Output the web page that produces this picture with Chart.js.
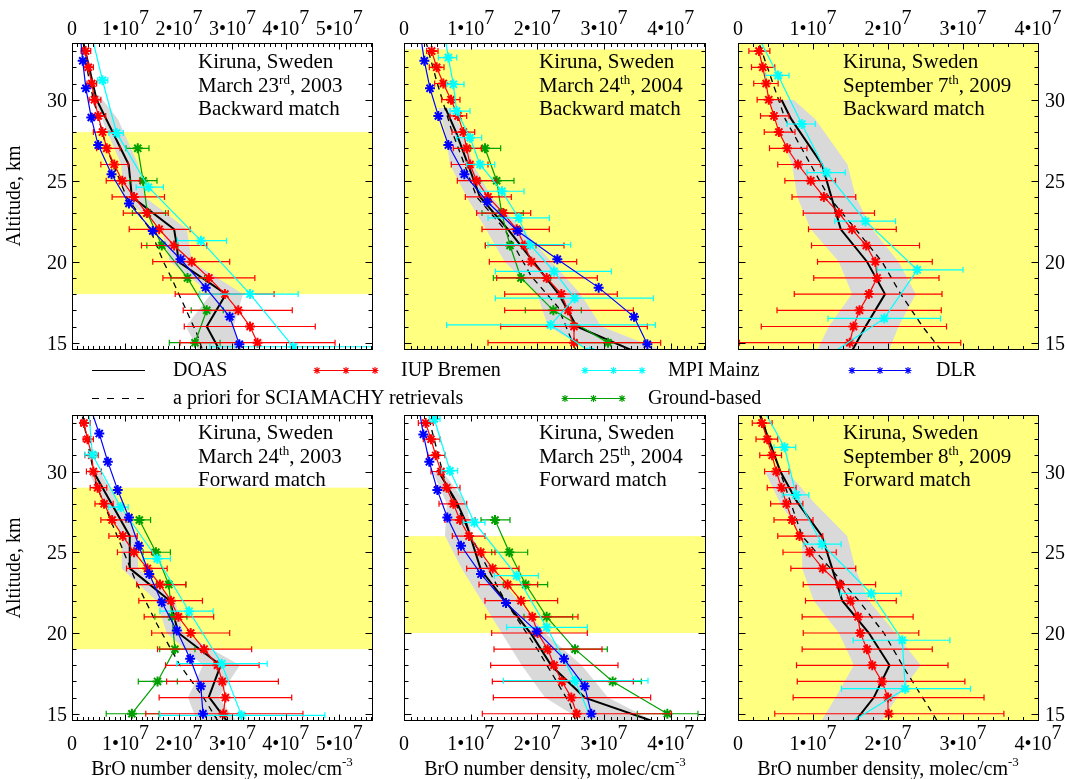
<!DOCTYPE html>
<html lang="en">
<head>
  <meta charset="UTF-8">
  <title>BrO profiles over Kiruna</title>
  <script src="https://cdn.jsdelivr.net/npm/chart.js"></script>
  <style>
    body {
      margin: 0;
      width: 1065px;
      height: 779px;
      position: relative;
      overflow: hidden;
      background: #fff;
      font-family: 'Liberation Serif', 'Times New Roman', serif;
      color: #000;
    }
    canvas { position: absolute; left: 0; top: 0; }
    .note {
      position: absolute;
      font-size: 21px;
      line-height: 23.5px;
      white-space: nowrap;
    }
    .note sup { font-size: 13px; line-height: 0; vertical-align: 8px; }
    .lg {
      position: absolute;
      font-size: 20px;
      line-height: 24px;
      white-space: nowrap;
    }
    .xtitle {
      position: absolute;
      width: 340px;
      text-align: center;
      font-size: 20px;
      line-height: 24px;
      white-space: nowrap;
    }
    .xtitle sup { font-size: 13px; line-height: 0; vertical-align: 9px; }
    .ytitle {
      position: absolute;
      width: 200px;
      text-align: center;
      font-size: 20px;
      line-height: 24px;
      transform: rotate(-90deg);
    }
    #legend { position: absolute; left: 0; top: 0; }
  </style>
</head>
<body>

  <div id="charts"></div>
  <svg id="legend" width="1065" height="779"></svg>

  <!-- panel notes -->
  <div class="note" style="left:198px;top:50px">Kiruna, Sweden<br>March 23<sup>rd</sup>, 2003<br>Backward match</div>
  <div class="note" style="left:539px;top:50px">Kiruna, Sweden<br>March 24<sup>th</sup>, 2004<br>Backward match</div>
  <div class="note" style="left:843px;top:50px">Kiruna, Sweden<br>September 7<sup>th</sup>, 2009<br>Backward match</div>
  <div class="note" style="left:198px;top:421px">Kiruna, Sweden<br>March 24<sup>th</sup>, 2003<br>Forward match</div>
  <div class="note" style="left:539px;top:421px">Kiruna, Sweden<br>March 25<sup>th</sup>, 2004<br>Forward match</div>
  <div class="note" style="left:843px;top:421px">Kiruna, Sweden<br>September 8<sup>th</sup>, 2009<br>Forward match</div>

  <!-- legend text -->
  <div class="lg" style="left:173px;top:357px">DOAS</div>
  <div class="lg" style="left:401px;top:357px">IUP Bremen</div>
  <div class="lg" style="left:668px;top:357px">MPI Mainz</div>
  <div class="lg" style="left:936px;top:357px">DLR</div>
  <div class="lg" style="left:173px;top:385px">a priori for SCIAMACHY retrievals</div>
  <div class="lg" style="left:648px;top:385px">Ground-based</div>

  <!-- axis titles -->
  <div class="ytitle" style="left:-87px;top:184px">Altitude, km</div>
  <div class="ytitle" style="left:-87px;top:556px">Altitude, km</div>
  <div class="xtitle" style="left:52px;top:756px">BrO number density, molec/cm<sup>-3</sup></div>
  <div class="xtitle" style="left:385px;top:756px">BrO number density, molec/cm<sup>-3</sup></div>
  <div class="xtitle" style="left:718px;top:756px">BrO number density, molec/cm<sup>-3</sup></div>

  <script>
    // all densities in units of 1e6 molec/cm3, altitudes in km
    const iupAlt = [15, 16, 17, 18, 19, 20, 21, 22, 23, 24, 25, 26, 27, 28, 29, 30, 31, 32, 33];
    const gbAlt = [15, 17, 19, 21, 23, 25, 27];
    const yTicks = [15, 20, 25, 30];
    const xTicks50 = [0, 10, 20, 30, 40, 50];
    const xTicks40 = [0, 10, 20, 30, 40];

    // March 23, 2003 - backward match
    const tlYellow = [[18, 28]];
    const tlDoasAlt = [14, 16, 18, 20, 21, 22, 24, 26, 30, 34];
    const tlDoas = [28.5, 25.2, 28.8, 19.9, 19.6, 19.1, 11.2, 10.6, 4.6, 1.8];
    const tlBandAlt = [14, 16, 18, 20, 22, 24, 26, 28.8, 30.3];
    const tlBandLo = [24.5, 21.3, 26.0, 18.3, 16.8, 9.6, 9.2, 5.6, 3.9];
    const tlBandHi = [32.5, 30.2, 32.0, 22.4, 21.5, 13.6, 12.4, 8.6, 5.0];
    const tlPriAlt = [14, 15.6, 17.2, 19, 20, 22, 24, 27, 30, 34];
    const tlPri = [25.0, 23.3, 21.1, 18.6, 17.1, 14.6, 10.2, 6.5, 4.0, 1.5];
    const tlIup = [34.7, 33.3, 31.1, 28.6, 25.6, 22.4, 19.1, 16.3, 14.0, 11.6, 9.4, 7.9, 6.5, 5.7, 4.9, 4.2, 3.7, 3.05, 2.55];
    const tlIupLo = [20.2, 21.0, 20.8, 19.3, 17.0, 15.1, 13.0, 10.7, 9.6, 7.5, 6.4, 5.4, 4.6, 4.0, 3.8, 3.2, 2.8, 2.2, 1.7];
    const tlIupHi = [49.2, 45.5, 41.2, 37.8, 34.2, 29.5, 25.2, 22.1, 18.0, 17.3, 12.7, 10.5, 9.0, 7.7, 6.3, 5.4, 4.6, 4.0, 3.5];
    const tlMpiAlt = [14.75, 18.0, 21.3, 24.6, 27.95, 31.2, 34.5];
    const tlMpi = [41.4, 33.3, 24.1, 14.3, 8.35, 5.7, 3.3];
    const tlMpiLo = [25.8, 23.9, 19.7, 12.0, 6.9, 4.8, 2.8];
    const tlMpiHi = [60.0, 42.3, 28.9, 17.1, 9.6, 6.7, 3.8];
    const tlDlrAlt = [14.9, 16.6, 18.4, 20.15, 21.9, 23.6, 25.4, 27.2, 28.9, 30.7, 32.4, 34.2];
    const tlDlr = [31.3, 29.5, 25.0, 20.3, 15.1, 10.65, 7.4, 4.9, 3.6, 2.6, 2.0, 1.5];
    const tlGb = [23.0, 25.2, 21.6, 16.8, 14.1, 13.3, 12.3];
    const tlGbLo = [18.2, 22.3, 18.5, 14.0, 11.3, 10.8, 10.1];
    const tlGbHi = [27.7, 28.3, 24.8, 19.8, 17.5, 15.9, 14.4];

    // March 24, 2004 - backward match
    const tmYellow = [[14.55, 33.1]];
    const tmDoasAlt = [14, 16, 18, 20, 22, 24, 28, 29.5];
    const tmDoas = [37.2, 25.9, 23.2, 19.4, 15.6, 11.4, 7.8, 6.2];
    const tmBandAlt = [14, 16, 18, 20, 22, 24, 26, 28, 29.5];
    const tmBandLo = [30.0, 21.6, 20.0, 15.1, 12.3, 9.4, 6.9, 6.2, 5.2];
    const tmBandHi = [42.0, 29.6, 26.5, 22.1, 17.8, 13.1, 10.4, 8.9, 7.0];
    const tmPriAlt = [14, 14.7, 17.2, 19.1, 22, 24, 28.1, 31, 34];
    const tmPri = [26.5, 25.6, 23.1, 19.1, 15.1, 10.9, 7.15, 5.0, 3.0];
    const tmIup = [25.5, 25.5, 24.6, 23.6, 21.4, 19.1, 18.1, 16.9, 14.9, 12.6, 10.9, 9.9, 9.4, 8.9, 8.1, 7.05, 5.9, 4.9, 4.15];
    const tmIupLo = [12.6, 14.5, 15.1, 15.1, 13.9, 12.8, 12.2, 11.7, 10.9, 9.2, 8.0, 7.1, 7.4, 7.2, 6.9, 5.65, 4.6, 3.8, 3.4];
    const tmIupHi = [38.5, 36.5, 34.4, 32.0, 29.0, 25.9, 24.0, 21.8, 19.0, 16.1, 13.8, 12.6, 11.6, 10.6, 9.4, 8.4, 7.2, 6.0, 5.1];
    const tmMpiAlt = [14.45, 16.1, 17.75, 19.4, 21.05, 22.7, 24.35, 26.0, 27.65, 29.3, 30.95, 32.6, 34.25];
    const tmMpi = [27.9, 22.0, 25.6, 22.5, 18.9, 17.2, 14.7, 11.4, 9.9, 7.9, 7.4, 6.65, 6.0];
    const tmMpiLo = [8.5, 6.4, 13.7, 13.7, 12.6, 12.6, 11.4, 9.4, 7.9, 6.9, 6.4, 5.15, 5.0];
    const tmMpiHi = [45.0, 37.7, 37.4, 31.1, 25.0, 21.8, 18.0, 13.6, 11.65, 9.9, 9.0, 7.9, 7.0];
    const tmDlrAlt = [14.9, 16.6, 18.4, 20.15, 21.9, 23.7, 25.4, 27.2, 29.0, 30.7, 32.4, 34.2];
    const tmDlr = [36.5, 34.5, 29.2, 23.0, 17.05, 12.5, 9.05, 6.65, 5.15, 3.9, 3.05, 2.4];
    const tmGb = [30.6, 22.4, 17.55, 15.9, 14.65, 13.9, 12.15];
    const tmGbLo = [26.0, 18.2, 13.4, 12.2, 11.7, 11.4, 10.0];
    const tmGbHi = [36.0, 26.6, 22.0, 19.8, 17.9, 16.5, 14.5];

    // September 7, 2009 - backward match
    const trYellow = [[14.55, 33.5]];
    const trDoasAlt = [14, 16, 18, 20, 22, 26, 28.8, 30];
    const trDoas = [14.6, 17.0, 19.6, 17.2, 13.7, 11.2, 7.1, 5.8];
    const trBandAlt = [14, 16, 18, 20, 22, 24, 26, 28.8, 30];
    const trBandLo = [10.0, 12.1, 15.2, 13.45, 9.7, 7.9, 7.2, 5.0, 4.1];
    const trBandHi = [19.7, 21.4, 23.7, 21.4, 17.9, 15.7, 14.6, 10.3, 7.4];
    const trPriAlt = [14, 16, 18, 20, 22, 24, 28.8, 33.5, 35];
    const trPri = [28.0, 24.6, 21.7, 19.2, 15.7, 12.1, 6.3, 2.8, 2.2];
    const trIup = [14.9, 15.4, 16.2, 17.45, 18.55, 18.3, 17.1, 15.2, 13.45, 11.45, 9.7, 8.0, 6.55, 5.45, 4.8, 4.1, 3.75, 3.3, 2.8];
    const trIupLo = [0.2, 3.1, 5.2, 7.5, 10.1, 10.6, 9.8, 9.4, 8.7, 7.2, 6.25, 5.3, 4.2, 3.5, 3.0, 2.55, 2.1, 1.8, 1.45];
    const trIupHi = [29.7, 27.8, 27.1, 27.2, 26.8, 25.9, 24.2, 21.1, 18.2, 15.7, 13.0, 11.0, 9.2, 7.6, 6.8, 5.65, 5.35, 4.9, 4.25];
    const trMpiAlt = [13.5, 16.5, 19.5, 22.5, 25.5, 28.5, 31.5, 34.5];
    const trMpi = [9.8, 19.5, 23.9, 17.0, 11.8, 8.5, 5.35, 2.0];
    const trMpiLo = [5.0, 12.0, 18.6, 12.9, 9.2, 6.55, 3.7, 1.2];
    const trMpiHi = [15.0, 27.0, 30.0, 21.0, 14.3, 10.3, 6.8, 2.8];

    // March 24, 2003 - forward match
    const blYellow = [[19, 29]];
    const blDoasAlt = [14, 16.05, 18, 20, 22, 24, 26, 30];
    const blDoas = [30.2, 25.6, 27.8, 19.9, 18.3, 10.8, 10.8, 4.0];
    const blBandAlt = [14, 16, 18, 20, 22, 24, 26, 30];
    const blBandLo = [24.0, 21.7, 24.5, 17.7, 15.8, 9.3, 9.3, 3.0];
    const blBandHi = [32.0, 27.4, 31.4, 20.8, 19.3, 12.4, 12.2, 5.2];
    const blPriAlt = [14, 14.7, 16, 18, 20.6, 23.3, 29.2, 34];
    const blPri = [28.4, 27.0, 24.6, 20.2, 15.8, 11.8, 4.5, 1.6];
    const blIup = [28.3, 28.7, 28.1, 27.2, 24.7, 22.2, 19.9, 18.5, 16.45, 14.1, 11.6, 9.5, 7.5, 6.0, 4.8, 4.0, 3.7, 2.9, 2.25];
    const blIupLo = [13.8, 16.3, 17.7, 17.5, 16.0, 14.9, 13.5, 12.5, 12.1, 10.2, 8.5, 6.9, 5.4, 4.3, 3.4, 2.7, 2.4, 2.1, 1.6];
    const blIupHi = [43.2, 41.1, 38.6, 35.0, 33.6, 29.5, 26.5, 24.4, 21.3, 17.8, 14.9, 12.2, 10.1, 7.7, 6.5, 5.5, 4.9, 4.0, 3.4];
    const blMpiAlt = [14.9, 18.1, 21.35, 24.6, 27.8, 31.05, 34.3];
    const blMpi = [31.7, 28.0, 21.9, 15.95, 9.1, 3.8, 3.0];
    const blMpiLo = [16.45, 19.6, 16.45, 13.3, 6.8, 2.4, 2.2];
    const blMpiHi = [47.3, 36.5, 26.4, 18.4, 10.5, 4.6, 3.8];
    const blDlrAlt = [15.0, 16.7, 18.4, 20.15, 21.9, 23.65, 25.4, 27.15, 28.85, 30.6, 32.35, 34.1];
    const blDlr = [24.5, 24.1, 22.1, 19.6, 16.8, 14.45, 12.5, 10.65, 8.55, 6.7, 5.1, 3.3];
    const blGb = [11.2, 16.0, 19.25, 18.7, 18.1, 15.7, 12.6];
    const blGbLo = [6.4, 12.4, 16.4, 15.5, 15.8, 13.3, 10.5];
    const blGbHi = [16.3, 19.7, 23.0, 21.5, 21.3, 18.4, 14.7];

    // March 25, 2004 - forward match
    const bmYellow = [[20, 26]];
    const bmDoasAlt = [14, 14.6, 16, 17.95, 19.9, 21.75, 23.9, 26.9, 28.1, 30.1];
    const bmDoas = [41.0, 36.9, 27.1, 22.15, 19.15, 15.6, 11.55, 9.25, 7.9, 5.05];
    const bmBandAlt = [14, 16, 18, 20, 22, 24, 26, 28, 30];
    const bmBandLo = [29.0, 21.15, 17.65, 14.65, 11.65, 8.65, 6.15, 6.4, 4.3];
    const bmBandHi = [40.0, 30.6, 26.65, 21.15, 17.15, 13.15, 10.15, 9.4, 5.8];
    const bmPriAlt = [14, 15.6, 18.9, 22, 25.3, 29.4, 33, 35];
    const bmPri = [26.2, 24.9, 20.15, 15.15, 10.9, 6.15, 3.9, 3.0];
    const bmIup = [25.9, 25.1, 23.7, 22.5, 21.55, 20.05, 19.25, 17.55, 15.55, 13.3, 11.5, 9.75, 8.4, 7.4, 6.4, 5.55, 4.75, 4.05, 3.25];
    const bmIupLo = [11.75, 13.4, 13.25, 13.0, 13.5, 13.15, 12.25, 12.15, 11.25, 9.4, 8.15, 7.25, 6.15, 5.25, 4.75, 4.05, 3.55, 2.9, 2.15];
    const bmIupHi = [40.1, 37.0, 34.4, 32.1, 29.7, 27.5, 26.1, 23.05, 20.05, 17.25, 13.65, 12.15, 10.65, 9.4, 8.4, 7.15, 6.15, 5.4, 4.4];
    const bmMpiAlt = [13.8, 17.05, 20.35, 23.55, 26.85, 30.05, 33.25];
    const bmMpi = [29.0, 25.65, 21.4, 16.9, 10.55, 6.9, 4.55];
    const bmMpiLo = [20.0, 14.9, 15.4, 13.55, 8.9, 5.65, 3.8];
    const bmMpiHi = [38.0, 36.6, 27.5, 20.15, 12.15, 8.05, 5.4];
    const bmDlrAlt = [15.0, 16.7, 18.4, 20.1, 21.85, 23.65, 25.4, 27.15, 28.85, 30.6, 32.3, 34.05];
    const bmDlr = [28.1, 27.1, 24.0, 19.9, 15.3, 11.55, 8.55, 6.5, 5.0, 3.8, 2.9, 2.2];
    const bmGb = [39.5, 31.3, 25.65, 21.4, 18.25, 15.8, 13.65];
    const bmGbLo = [35.0, 26.6, 21.0, 18.0, 14.9, 13.15, 11.55];
    const bmGbHi = [44.1, 35.6, 30.5, 25.3, 21.55, 18.55, 15.9];

    // September 8, 2009 - forward match
    const brYellow = [[14.55, 33.5]];
    const brDoasAlt = [14, 16, 18, 20, 22, 24, 26, 28.1, 30, 33.4, 35];
    const brDoas = [14.7, 18.1, 20.2, 17.45, 13.9, 12.55, 11.2, 7.9, 5.65, 3.0, 2.0];
    const brBandAlt = [14, 16, 18, 20, 22, 24, 26, 28, 30];
    const brBandLo = [10.4, 13.0, 15.45, 13.45, 10.1, 8.55, 8.55, 5.65, 3.6];
    const brBandHi = [18.4, 21.2, 24.35, 21.0, 17.45, 15.65, 14.55, 10.3, 6.55];
    const brPriAlt = [14, 15.2, 17.7, 20, 22, 26, 33.4, 35];
    const brPri = [27.3, 25.7, 22.3, 19.45, 16.1, 8.55, 3.1, 2.3];
    const brIup = [20.1, 20.0, 19.2, 17.9, 17.2, 16.3, 16.0, 15.0, 13.6, 11.3, 9.55, 8.2, 7.2, 6.45, 5.8, 5.1, 4.55, 3.9, 3.2];
    const brIupLo = [4.9, 7.35, 7.9, 7.8, 8.55, 8.7, 8.55, 9.0, 8.7, 7.05, 6.0, 5.3, 4.8, 4.35, 3.9, 3.55, 2.9, 2.4, 1.9];
    const brIupHi = [35.45, 32.8, 30.25, 28.0, 25.9, 24.1, 23.35, 21.1, 18.35, 15.7, 13.1, 11.3, 10.0, 8.65, 7.75, 6.8, 5.8, 5.3, 4.55];
    const brMpiAlt = [13.55, 16.55, 19.55, 22.45, 25.5, 28.55, 31.5, 34.5];
    const brMpi = [11.8, 22.3, 21.9, 17.75, 11.2, 7.75, 6.2, 2.6];
    const brMpiLo = [6.0, 13.8, 15.35, 13.65, 8.8, 5.9, 4.8, 1.8];
    const brMpiHi = [18.0, 31.0, 28.25, 21.75, 13.75, 9.45, 7.7, 3.4];

    const RED = '#ff0000', CYAN = '#00ffff', BLUE = '#0000ff', GREEN = '#00a000';
    const GREY = '#d9d9d9', YELLOW = '#ffff80';
    const FONT = '20px "Liberation Serif", serif';

    const panels = [
      { box: [72, 43, 373, 350], xMax: 56.3, minor: 1, xTicks: xTicks50, xLab: 35, yLab: 'left', yellow: tlYellow,
        doas: [tlDoasAlt, tlDoas], band: [tlBandAlt, tlBandLo, tlBandHi], pri: [tlPriAlt, tlPri],
        iup: [iupAlt, tlIup, tlIupLo, tlIupHi], mpi: [tlMpiAlt, tlMpi, tlMpiLo, tlMpiHi],
        dlr: [tlDlrAlt, tlDlr], gb: [gbAlt, tlGb, tlGbLo, tlGbHi] },
      { box: [404, 43, 706, 350], xMax: 45.3, minor: 1, xTicks: xTicks40, xLab: 35, yLab: null, yellow: tmYellow,
        doas: [tmDoasAlt, tmDoas], band: [tmBandAlt, tmBandLo, tmBandHi], pri: [tmPriAlt, tmPri],
        iup: [iupAlt, tmIup, tmIupLo, tmIupHi], mpi: [tmMpiAlt, tmMpi, tmMpiLo, tmMpiHi],
        dlr: [tmDlrAlt, tmDlr], gb: [gbAlt, tmGb, tmGbLo, tmGbHi] },
      { box: [738, 43, 1039, 350], xMax: 40.13, minor: 2, xTicks: xTicks40, xLab: 35, yLab: 'right', yellow: trYellow,
        doas: [trDoasAlt, trDoas], band: [trBandAlt, trBandLo, trBandHi], pri: [trPriAlt, trPri],
        iup: [iupAlt, trIup, trIupLo, trIupHi], mpi: [trMpiAlt, trMpi, trMpiLo, trMpiHi] },
      { box: [72, 415, 373, 721], xMax: 56.3, minor: 1, xTicks: xTicks50, xLab: 750, yLab: 'left', yellow: blYellow,
        doas: [blDoasAlt, blDoas], band: [blBandAlt, blBandLo, blBandHi], pri: [blPriAlt, blPri],
        iup: [iupAlt, blIup, blIupLo, blIupHi], mpi: [blMpiAlt, blMpi, blMpiLo, blMpiHi],
        dlr: [blDlrAlt, blDlr], gb: [gbAlt, blGb, blGbLo, blGbHi] },
      { box: [404, 415, 706, 721], xMax: 45.3, minor: 1, xTicks: xTicks40, xLab: 750, yLab: null, yellow: bmYellow,
        doas: [bmDoasAlt, bmDoas], band: [bmBandAlt, bmBandLo, bmBandHi], pri: [bmPriAlt, bmPri],
        iup: [iupAlt, bmIup, bmIupLo, bmIupHi], mpi: [bmMpiAlt, bmMpi, bmMpiLo, bmMpiHi],
        dlr: [bmDlrAlt, bmDlr], gb: [gbAlt, bmGb, bmGbLo, bmGbHi] },
      { box: [738, 415, 1039, 721], xMax: 40.13, minor: 2, xTicks: xTicks40, xLab: 750, yLab: 'right', yellow: brYellow,
        doas: [brDoasAlt, brDoas], band: [brBandAlt, brBandLo, brBandHi], pri: [brPriAlt, brPri],
        iup: [iupAlt, brIup, brIupLo, brIupHi], mpi: [brMpiAlt, brMpi, brMpiLo, brMpiHi] }
    ];

    const pts = (alt, val) => alt.map((a, i) => ({ x: val[i], y: a }));

    function series(s, color, order) {
      return {
        data: pts(s[0], s[1]), errLo: s[2] || null, errHi: s[3] || null,
        borderColor: color, backgroundColor: color, borderWidth: 1.2, fill: false,
        pointStyle: 'star', pointRadius: 5, pointBorderWidth: 2, pointBorderColor: color, order
      };
    }

    // label like 1•10^7 drawn with the exponent raised
    function drawPow(ctx, v, cx, base) {
      if (v === 0) { ctx.textAlign = 'center'; ctx.fillText('0', cx, base); return; }
      const m = (v / 10) + '•10';
      ctx.textAlign = 'left';
      const w1 = ctx.measureText(m).width, w2 = ctx.measureText('7').width;
      const x0 = cx - (w1 + w2) / 2;
      ctx.fillText(m, x0, base);
      ctx.fillText('7', x0 + w1, base - 11);
    }

    const profileFrame = {
      id: 'profileFrame',
      beforeDatasetsDraw(chart, args, o) {
        const { ctx, chartArea: a, scales: { y } } = chart;
        ctx.save();
        ctx.fillStyle = YELLOW;
        o.yellow.forEach(([lo, hi]) => {
          const y1 = Math.max(a.top, y.getPixelForValue(hi));
          const y2 = Math.min(a.bottom, y.getPixelForValue(lo));
          ctx.fillRect(a.left, y1, a.right - a.left, y2 - y1);
        });
        ctx.restore();
      },
      afterDatasetDraw(chart, args) {
        const ds = chart.data.datasets[args.index];
        if (!ds.errLo) return;
        const { ctx, chartArea: a, scales: { x, y } } = chart;
        ctx.save();
        ctx.beginPath();
        ctx.rect(a.left, a.top, a.right - a.left, a.bottom - a.top);
        ctx.clip();
        ctx.strokeStyle = ds.borderColor;
        ctx.lineWidth = 1.2;
        ctx.beginPath();
        ds.data.forEach((p, i) => {
          const py = y.getPixelForValue(p.y);
          const x1 = x.getPixelForValue(ds.errLo[i]), x2 = x.getPixelForValue(ds.errHi[i]);
          ctx.moveTo(x1, py); ctx.lineTo(x2, py);
          ctx.moveTo(x1, py - 3); ctx.lineTo(x1, py + 3);
          ctx.moveTo(x2, py - 3); ctx.lineTo(x2, py + 3);
        });
        ctx.stroke();
        ctx.restore();
      },
      afterDraw(chart, args, o) {
        const { ctx, chartArea: a, scales: { x, y } } = chart;
        ctx.save();
        ctx.strokeStyle = '#000';
        ctx.lineWidth = 1;
        const L = Math.round(a.left) + 0.5, R = Math.round(a.right) - 0.5;
        const T = Math.round(a.top) + 0.5, B = Math.round(a.bottom) - 0.5;
        ctx.strokeRect(L, T, R - L, B - T);
        ctx.beginPath();
        for (let k = 0; k * o.minor <= x.max; k++) {
          const v = k * o.minor;
          const px = Math.round(x.getPixelForValue(v)) + 0.5;
          const len = v % 10 === 0 ? 6 : 3.5;
          ctx.moveTo(px, T); ctx.lineTo(px, T + len);
          ctx.moveTo(px, B); ctx.lineTo(px, B - len);
        }
        for (let v = 15; v <= 33; v++) {
          const py = Math.round(y.getPixelForValue(v)) + 0.5;
          const len = v % 5 === 0 ? 7 : 4;
          ctx.moveTo(L, py); ctx.lineTo(L + len, py);
          ctx.moveTo(R, py); ctx.lineTo(R - len, py);
        }
        ctx.stroke();

        ctx.fillStyle = '#000';
        ctx.font = FONT;
        ctx.textBaseline = 'alphabetic';
        o.xTicks.forEach(v => drawPow(ctx, v, x.getPixelForValue(v), o.xLab));
        if (o.yLab) {
          ctx.textAlign = o.yLab === 'left' ? 'right' : 'left';
          const lx = o.yLab === 'left' ? a.left - 5 : a.right + 6;
          yTicks.forEach(v => ctx.fillText(String(v), lx, y.getPixelForValue(v) + 7));
        }
        ctx.restore();
      }
    };

    const holder = document.getElementById('charts');
    panels.forEach(p => {
      const cv = document.createElement('canvas');
      cv.width = 1065; cv.height = 779;
      holder.appendChild(cv);

      const datasets = [
        { data: pts(p.band[0], p.band[1]), borderWidth: 0, pointRadius: 0, fill: false, order: 9 },
        { data: pts(p.band[0], p.band[2]), borderWidth: 0, pointRadius: 0, backgroundColor: GREY, fill: '-1', order: 8 },
        { data: pts(p.pri[0], p.pri[1]), borderColor: '#000', borderWidth: 1.3, borderDash: [6, 5], pointRadius: 0, fill: false, order: 7 },
        { data: pts(p.doas[0], p.doas[1]), borderColor: '#000', borderWidth: 2, pointRadius: 0, fill: false, order: 6 }
      ];
      if (p.gb) datasets.push(series(p.gb, GREEN, 5));
      datasets.push(series(p.iup, RED, 4));
      datasets.push(series(p.mpi, CYAN, 3));
      if (p.dlr) datasets.push(series(p.dlr, BLUE, 2));

      const [l, t, r, b] = p.box;
      new Chart(cv, {
        type: 'line',
        data: { datasets },
        options: {
          indexAxis: 'y',
          responsive: false,
          animation: false,
          events: [],
          devicePixelRatio: 1,
          layout: { padding: { left: l, top: t, right: 1065 - r, bottom: 779 - b } },
          scales: {
            x: { type: 'linear', min: 0, max: p.xMax, display: false },
            y: { type: 'linear', min: 14.55, max: 33.5, display: false }
          },
          plugins: {
            legend: { display: false },
            tooltip: { enabled: false },
            profileFrame: { yellow: p.yellow, xTicks: p.xTicks, minor: p.minor, xLab: p.xLab, yLab: p.yLab }
          }
        },
        plugins: [profileFrame]
      });
    });

    // legend samples
    const legendRows = [
      { x1: 92, x2: 145, y: 370.5, color: '#000', dash: null, marks: false },
      { x1: 317, x2: 375, y: 370.5, color: RED, dash: null, marks: true },
      { x1: 585, x2: 642, y: 370.5, color: CYAN, dash: null, marks: true },
      { x1: 852, x2: 908, y: 370.5, color: BLUE, dash: null, marks: true },
      { x1: 92, x2: 145, y: 398.5, color: '#000', dash: '7 8', marks: false },
      { x1: 565, x2: 622, y: 398.5, color: GREEN, dash: null, marks: true }
    ];
    const star = (cx, cy) => {
      const r = 3.5, d = 2.5;
      return `M${cx - r},${cy}h${2 * r}M${cx},${cy - r}v${2 * r}M${cx - d},${cy - d}l${2 * d},${2 * d}M${cx - d},${cy + d}l${2 * d},${-2 * d}`;
    };
    let svg = '';
    legendRows.forEach(it => {
      svg += `<line x1="${it.x1}" y1="${it.y}" x2="${it.x2}" y2="${it.y}" stroke="${it.color}" stroke-width="1.2"${it.dash ? ` stroke-dasharray="${it.dash}"` : ''}/>`;
      if (it.marks) {
        const mid = (it.x1 + it.x2) / 2;
        svg += `<path d="${star(it.x1, it.y)}${star(mid, it.y)}${star(it.x2, it.y)}" stroke="${it.color}" stroke-width="1.1" fill="none"/>`;
      }
    });
    document.getElementById('legend').innerHTML = svg;
  </script>
</body>
</html>
